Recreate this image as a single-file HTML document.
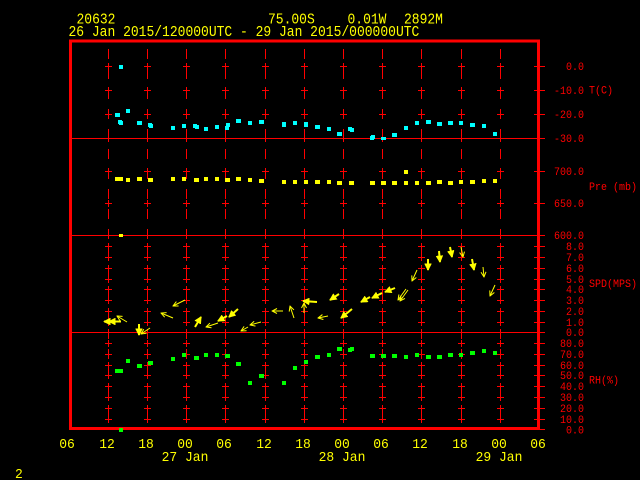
<!DOCTYPE html>
<html><head><meta charset="utf-8"><style>
html,body{margin:0;padding:0;background:#000;width:640px;height:480px;overflow:hidden}
svg{display:block}
text{font-family:"Liberation Mono",monospace}
</style></head><body>
<svg width="640" height="480" viewBox="0 0 640 480" xmlns="http://www.w3.org/2000/svg">
<defs>
<marker id="ah" viewBox="0 0 6 6" refX="5.5" refY="3" markerWidth="6" markerHeight="6" orient="auto" markerUnits="userSpaceOnUse"><path d="M0.5,0.5 L5.5,3 L0.5,5.5" fill="none" stroke="#ff0" stroke-width="1"/></marker>
<marker id="ahb" viewBox="0 0 7 7" refX="6.5" refY="3.5" markerWidth="7" markerHeight="7" orient="auto" markerUnits="userSpaceOnUse"><path d="M0.5,0.5 L6.5,3.5 L0.5,6.5 Z" fill="#ff0" stroke="#ff0" stroke-width="1"/></marker>
<g id="col" stroke="#f00" stroke-width="1" fill="none">
<line x1="0" y1="49" x2="0" y2="427" stroke-dasharray="10 10"/>
<path d="M-3.5 66.5h7M0 63v7M-3.5 90.5h7M0 87v7M-3.5 114.5h7M0 111v7M-3.5 138.5h7M0 135v7M-3.5 171.5h7M0 168v7M-3.5 203.5h7M0 200v7M-3.5 235.5h7M0 232v7M-3.5 246.5h7M0 243v7M-3.5 257.5h7M0 254v7M-3.5 268.5h7M0 265v7M-3.5 279.5h7M0 276v7M-3.5 289.5h7M0 286v7M-3.5 300.5h7M0 297v7M-3.5 311.5h7M0 308v7M-3.5 322.5h7M0 319v7M-3.5 332.5h7M0 329v7M-3.5 343.5h7M0 340v7M-3.5 354.5h7M0 351v7M-3.5 365.5h7M0 362v7M-3.5 375.5h7M0 372v7M-3.5 386.5h7M0 383v7M-3.5 397.5h7M0 394v7M-3.5 408.5h7M0 405v7M-3.5 419.5h7M0 416v7"/>
</g>
</defs>
<rect width="640" height="480" fill="#000"/>

<!-- header -->
<g fill="#ff0" font-size="13">
<text transform="translate(76.5,23.5) scale(1,1.15)">20632</text>
<text transform="translate(268,23.5) scale(1,1.15)">75.00S</text>
<text transform="translate(347.5,23.5) scale(1,1.15)">0.01W</text>
<text transform="translate(404,23.5) scale(1,1.15)">2892M</text>
<text transform="translate(68.5,36) scale(1,1.15)">26 Jan 2015/120000UTC - 29 Jan 2015/000000UTC</text>
</g>

<!-- grid columns -->
<g shape-rendering="crispEdges">
<use href="#col" x="108.5"/><use href="#col" x="147.5"/><use href="#col" x="186.5"/><use href="#col" x="225.5"/>
<use href="#col" x="265.5"/><use href="#col" x="304.5"/><use href="#col" x="343.5"/><use href="#col" x="382.5"/>
<use href="#col" x="421.5"/><use href="#col" x="461.5"/><use href="#col" x="500.5"/>
<!-- separators -->
<path d="M70 138.5H545M70 235.5H545M70 332.5H545" stroke="#f00" stroke-width="1"/>
<!-- right ticks -->
<path stroke="#f00" stroke-width="1" d="M534 66.5H545M534 90.5H545M534 114.5H545M534 138.5H545M534 171.5H545M534 203.5H545M534 235.5H545M534 246.5H545M534 257.5H545M534 268.5H545M534 279.5H545M534 289.5H545M534 300.5H545M534 311.5H545M534 322.5H545M534 332.5H545M534 343.5H545M534 354.5H545M534 365.5H545M534 375.5H545M534 386.5H545M534 397.5H545M534 408.5H545M534 419.5H545M534 429.5H545"/>
<!-- frame -->
<rect x="70.5" y="41" width="468" height="387.5" fill="none" stroke="#f00" stroke-width="3"/>
</g>

<!-- right labels -->
<g fill="#f00" font-size="10" text-anchor="end">
<text transform="translate(584,70.2) scale(1,1.1)">0.0</text>
<text transform="translate(584,94.2) scale(1,1.1)">-10.0</text>
<text transform="translate(584,118.2) scale(1,1.1)">-20.0</text>
<text transform="translate(584,142.2) scale(1,1.1)">-30.0</text>
<text transform="translate(584,175.2) scale(1,1.1)">700.0</text>
<text transform="translate(584,207.2) scale(1,1.1)">650.0</text>
<text transform="translate(584,239.2) scale(1,1.1)">600.0</text>
<text transform="translate(584,250.2) scale(1,1.1)">8.0</text>
<text transform="translate(584,261.2) scale(1,1.1)">7.0</text>
<text transform="translate(584,272.2) scale(1,1.1)">6.0</text>
<text transform="translate(584,283.2) scale(1,1.1)">5.0</text>
<text transform="translate(584,293.2) scale(1,1.1)">4.0</text>
<text transform="translate(584,304.2) scale(1,1.1)">3.0</text>
<text transform="translate(584,315.2) scale(1,1.1)">2.0</text>
<text transform="translate(584,326.2) scale(1,1.1)">1.0</text>
<text transform="translate(584,336.2) scale(1,1.1)">0.0</text>
<text transform="translate(584,347.2) scale(1,1.1)">80.0</text>
<text transform="translate(584,358.2) scale(1,1.1)">70.0</text>
<text transform="translate(584,369.2) scale(1,1.1)">60.0</text>
<text transform="translate(584,379.2) scale(1,1.1)">50.0</text>
<text transform="translate(584,390.2) scale(1,1.1)">40.0</text>
<text transform="translate(584,401.2) scale(1,1.1)">30.0</text>
<text transform="translate(584,412.2) scale(1,1.1)">20.0</text>
<text transform="translate(584,423.2) scale(1,1.1)">10.0</text>
<text transform="translate(584,433.5) scale(1,1.1)">0.0</text>
</g>
<g fill="#f00" font-size="10">
<text transform="translate(589,93.5) scale(1,1.1)">T(C)</text>
<text transform="translate(589,190) scale(1,1.1)">Pre (mb)</text>
<text transform="translate(589,287) scale(1,1.1)">SPD(MPS)</text>
<text transform="translate(589,383.5) scale(1,1.1)">RH(%)</text>
</g>

<!-- x axis labels -->
<g fill="#ff0" font-size="13" text-anchor="middle">
<text transform="translate(67,448) scale(1,1.08)">06</text>
<text transform="translate(107,448) scale(1,1.08)">12</text>
<text transform="translate(146,448) scale(1,1.08)">18</text>
<text transform="translate(185,448) scale(1,1.08)">00</text>
<text transform="translate(224,448) scale(1,1.08)">06</text>
<text transform="translate(264,448) scale(1,1.08)">12</text>
<text transform="translate(303,448) scale(1,1.08)">18</text>
<text transform="translate(342,448) scale(1,1.08)">00</text>
<text transform="translate(381,448) scale(1,1.08)">06</text>
<text transform="translate(420,448) scale(1,1.08)">12</text>
<text transform="translate(460,448) scale(1,1.08)">18</text>
<text transform="translate(499,448) scale(1,1.08)">00</text>
<text transform="translate(538,448) scale(1,1.08)">06</text>
<text transform="translate(185,461) scale(1,1.08)">27 Jan</text>
<text transform="translate(342,461) scale(1,1.08)">28 Jan</text>
<text transform="translate(499,461) scale(1,1.08)">29 Jan</text>
</g>
<text fill="#ff0" font-size="13" transform="translate(15,478) scale(1,1.08)">2</text>

<!-- temperature (cyan) -->
<g fill="#0ff">
<rect x="119" y="65" width="4" height="4"/>
<rect x="115" y="113" width="5" height="4"/><rect x="126" y="109" width="4" height="4"/>
<rect x="118" y="120" width="4" height="4"/><rect x="119" y="121" width="4" height="4"/>
<rect x="137" y="121" width="5" height="4"/><rect x="148" y="123" width="4" height="4"/><rect x="149" y="124" width="4" height="4"/>
<rect x="171" y="126" width="4" height="4"/><rect x="182" y="124" width="4" height="4"/><rect x="193" y="124" width="4" height="4"/>
<rect x="195" y="125" width="4" height="4"/><rect x="204" y="127" width="4" height="4"/><rect x="215" y="125" width="4" height="4"/>
<rect x="225" y="126" width="4" height="4"/><rect x="226" y="123" width="4" height="4"/><rect x="236" y="119" width="5" height="4"/>
<rect x="248" y="121" width="4" height="4"/><rect x="259" y="120" width="5" height="4"/>
<rect x="282" y="122" width="4" height="5"/><rect x="293" y="121" width="4" height="4"/><rect x="304" y="122" width="4" height="5"/>
<rect x="315" y="125" width="5" height="4"/><rect x="327" y="127" width="4" height="4"/><rect x="337" y="132" width="5" height="4"/>
<rect x="348" y="127" width="4" height="4"/><rect x="350" y="128" width="4" height="4"/>
<rect x="370" y="136" width="4" height="4"/><rect x="371" y="135" width="4" height="4"/><rect x="381" y="137" width="5" height="3"/>
<rect x="392" y="133" width="5" height="4"/><rect x="404" y="126" width="4" height="4"/><rect x="415" y="121" width="4" height="4"/>
<rect x="426" y="120" width="5" height="4"/><rect x="437" y="122" width="5" height="4"/><rect x="448" y="121" width="5" height="4"/>
<rect x="459" y="121" width="4" height="4"/><rect x="470" y="123" width="5" height="4"/><rect x="482" y="124" width="4" height="4"/>
<rect x="493" y="132" width="4" height="4"/>
</g>

<!-- pressure (yellow) -->
<g fill="#ff0">
<rect x="115" y="177" width="8" height="4"/><rect x="126" y="178" width="4" height="4"/><rect x="137" y="177" width="5" height="4"/>
<rect x="148" y="178" width="5" height="4"/><rect x="171" y="177" width="4" height="4"/><rect x="182" y="177" width="4" height="4"/>
<rect x="194" y="178" width="5" height="4"/><rect x="204" y="177" width="4" height="4"/><rect x="215" y="177" width="4" height="4"/>
<rect x="225" y="178" width="5" height="4"/><rect x="236" y="177" width="5" height="4"/><rect x="248" y="178" width="4" height="4"/>
<rect x="259" y="179" width="5" height="4"/>
<rect x="282" y="180" width="4" height="4"/><rect x="293" y="180" width="4" height="4"/><rect x="304" y="180" width="4" height="4"/>
<rect x="315" y="180" width="5" height="4"/><rect x="327" y="180" width="4" height="4"/><rect x="337" y="181" width="5" height="4"/>
<rect x="349" y="181" width="5" height="4"/><rect x="370" y="181" width="5" height="4"/><rect x="381" y="181" width="5" height="4"/>
<rect x="392" y="181" width="5" height="4"/><rect x="404" y="170" width="4" height="4"/><rect x="404" y="181" width="4" height="4"/>
<rect x="415" y="181" width="4" height="4"/><rect x="426" y="181" width="5" height="4"/><rect x="437" y="180" width="5" height="4"/>
<rect x="448" y="181" width="5" height="4"/><rect x="459" y="180" width="4" height="4"/><rect x="470" y="180" width="5" height="4"/>
<rect x="482" y="179" width="4" height="4"/><rect x="493" y="179" width="4" height="4"/>
<rect x="119" y="234" width="4" height="3"/>
</g>

<!-- RH (green) -->
<g fill="#0f0">
<rect x="115" y="369" width="8" height="4"/><rect x="126" y="359" width="4" height="4"/><rect x="137" y="364" width="5" height="4"/>
<rect x="148" y="361" width="5" height="4"/><rect x="171" y="357" width="4" height="4"/><rect x="182" y="353" width="4" height="4"/>
<rect x="194" y="356" width="5" height="4"/><rect x="204" y="353" width="4" height="4"/><rect x="215" y="353" width="4" height="4"/>
<rect x="225" y="354" width="5" height="4"/><rect x="236" y="362" width="5" height="4"/><rect x="248" y="381" width="4" height="4"/>
<rect x="259" y="374" width="5" height="4"/><rect x="282" y="381" width="4" height="4"/><rect x="293" y="366" width="4" height="4"/>
<rect x="304" y="360" width="4" height="4"/><rect x="315" y="355" width="5" height="4"/><rect x="327" y="353" width="4" height="4"/>
<rect x="337" y="347" width="5" height="4"/><rect x="348" y="348" width="4" height="4"/><rect x="350" y="347" width="4" height="4"/>
<rect x="370" y="354" width="5" height="4"/><rect x="381" y="354" width="5" height="4"/><rect x="392" y="354" width="5" height="4"/>
<rect x="404" y="355" width="4" height="4"/><rect x="415" y="353" width="4" height="4"/><rect x="426" y="355" width="5" height="4"/>
<rect x="437" y="355" width="5" height="4"/><rect x="448" y="353" width="5" height="4"/><rect x="459" y="353" width="4" height="4"/>
<rect x="470" y="351" width="5" height="4"/><rect x="482" y="349" width="4" height="4"/><rect x="493" y="351" width="4" height="4"/>
<rect x="119" y="428" width="4" height="4"/>
</g>

<!-- wind arrows -->
<g stroke="#ff0" fill="none">
<g stroke-width="2" marker-end="url(#ahb)">
<line x1="121" y1="321.5" x2="104" y2="321.5"/>
<line x1="116" y1="321.5" x2="109" y2="321.5"/>
<line x1="139" y1="324" x2="139" y2="335"/>
<line x1="195" y1="327" x2="201" y2="317"/>
<line x1="227" y1="316" x2="218" y2="321"/>
<line x1="238" y1="309" x2="229" y2="317"/>
<line x1="317" y1="302" x2="303" y2="301"/>
<line x1="339" y1="294" x2="330" y2="300"/>
<line x1="352" y1="309" x2="341" y2="318"/>
<line x1="370" y1="297" x2="361" y2="302"/>
<line x1="382" y1="293" x2="372" y2="298"/>
<line x1="395" y1="288" x2="385" y2="292"/>
<line x1="428" y1="259" x2="428" y2="270"/>
<line x1="439" y1="251" x2="440" y2="262"/>
<line x1="450" y1="247" x2="452" y2="257"/>
<line x1="472" y1="259" x2="474" y2="270"/>
</g>
<g stroke-width="1" marker-end="url(#ah)">
<line x1="127" y1="322" x2="117" y2="316"/>
<line x1="150" y1="328" x2="141" y2="334"/>
<line x1="185" y1="300" x2="173" y2="306"/>
<line x1="173" y1="318" x2="161" y2="313"/>
<line x1="218" y1="323" x2="206" y2="327"/>
<line x1="248" y1="327" x2="241" y2="331"/>
<line x1="261" y1="322" x2="250" y2="325"/>
<line x1="283" y1="311" x2="272" y2="311"/>
<line x1="294" y1="318" x2="290" y2="306"/>
<line x1="304" y1="313" x2="304" y2="303"/>
<line x1="328" y1="316" x2="318" y2="318"/>
<line x1="406" y1="289" x2="398" y2="300"/>
<line x1="408" y1="290" x2="400" y2="301"/>
<line x1="417" y1="270" x2="412" y2="281"/>
<line x1="461" y1="247" x2="463" y2="257"/>
<line x1="483" y1="267" x2="484" y2="277"/>
<line x1="495" y1="285" x2="490" y2="296"/>
</g>
</g>
</svg>
</body></html>
